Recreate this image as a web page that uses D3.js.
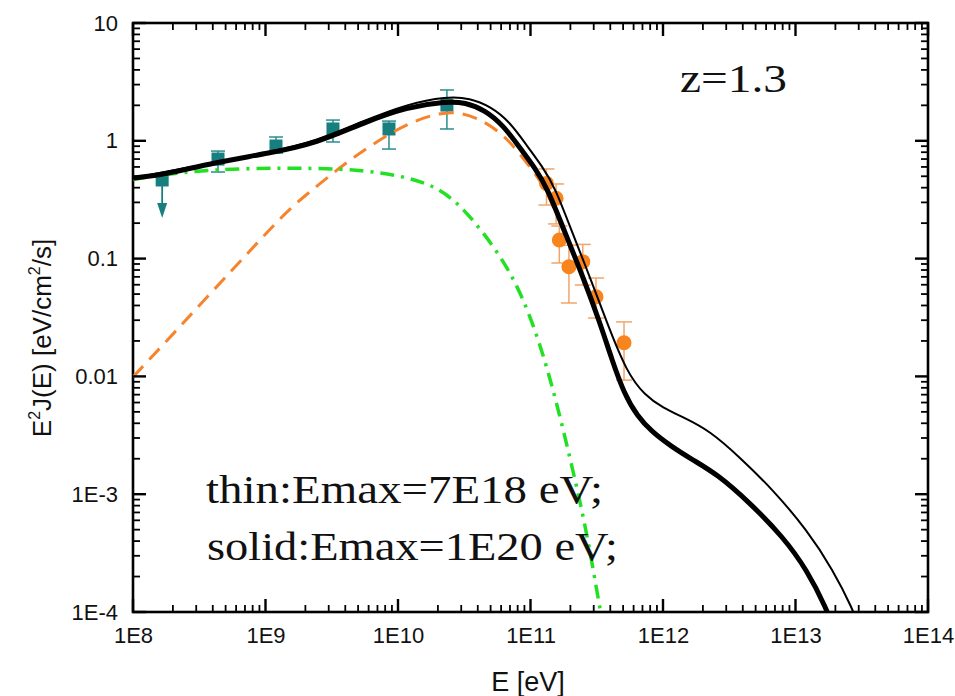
<!DOCTYPE html>
<html lang="en">
<head>
<meta charset="UTF-8">
<title>E2J(E) spectrum, z=1.3</title>
<script src="https://cdnjs.cloudflare.com/ajax/libs/d3/7.8.5/d3.min.js"></script>
<style>
  body { margin: 0; background: #fff; }
  #CHART text { font-family: "Liberation Sans", Arial, sans-serif; fill: #111; }
  #CHART .anno { font-family: "Liberation Serif", "Times New Roman", serif; fill: #111; }
</style>
</head>
<body>
<svg id="CHART" width="955" height="696"></svg>
<script>
// ---- axes ----
var xMajor = [1e8, 1e9, 1e10, 1e11, 1e12, 1e13, 1e14];
var xLabels = ["1E8", "1E9", "1E10", "1E11", "1E12", "1E13", "1E14"];
var yMajor = [1e-4, 1e-3, 1e-2, 1e-1, 1, 10];
var yLabels = ["1E-4", "1E-3", "0.01", "0.1", "1", "10"];
var minorSteps = [2, 3, 4, 5, 6, 7, 8, 9];

// ---- model curves (E in eV, E^2 J(E) in eV/cm^2/s) ----
var thickE = [1e8, 1.68e8, 4.0e8, 1.08e9, 2.45e9, 5.45e9, 1.17e10, 2.34e10, 3.21e10, 4.54e10, 6.2e10, 8.34e10,
              1.08e11, 1.33e11, 1.88e11, 2.49e11, 3.35e11, 4.12e11, 5.1e11, 6.4e11, 8.2e11, 1.15e12, 1.68e12, 2.56e12,
              4.54e12, 8.05e12, 1.22e13, 1.73e13, 1.88e13];
var thickF = [0.483, 0.513, 0.649, 0.787, 0.958, 1.42, 1.94, 2.16, 2.12, 1.82, 1.36, 0.869,
              0.588, 0.406, 0.152, 0.0698, 0.0284, 0.0138, 0.0071, 0.0046, 0.0034, 0.00255, 0.00195, 0.00148,
              8.41e-4, 4.34e-4, 2.28e-4, 1.04e-4, 7.8e-5];

var thinE = [1e8, 4.0e8, 1.08e9, 2.45e9, 5.45e9, 1.17e10, 2.34e10, 3.49e10, 4.94e10, 7.0e10, 9.42e10,
             1.22e11, 1.53e11, 2.13e11, 2.81e11, 3.78e11, 5.35e11, 7.3e11, 1.0e12, 1.42e12, 2.26e12, 3.81e12,
             6.76e12, 1.22e13, 1.92e13, 2.72e13, 2.96e13];
var thinF = [0.483, 0.649, 0.80, 1.0, 1.47, 2.05, 2.38, 2.30, 1.97, 1.45, 0.903,
             0.611, 0.406, 0.152, 0.0698, 0.0284, 0.0107, 0.0069, 0.0054, 0.0045, 0.00345, 0.00205,
             0.00109, 4.97e-4, 2.28e-4, 1.04e-4, 7.8e-5];

var hadE = [1e8, 1.6e8, 3.81e8, 9.08e8, 1.53e9, 2.45e9, 3.85e9, 6.15e9, 1.17e10, 2.47e10, 4.16e10,
            6.65e10, 1.05e11, 1.33e11, 1.88e11];
var hadF = [0.0099, 0.0174, 0.0501, 0.144, 0.269, 0.413, 0.624, 0.903, 1.42, 1.86, 1.55,
            1.08, 0.55, 0.38, 0.145];

var lepE = [1e8, 2.26e8, 7.24e8, 2.28e9, 5.45e9, 1.17e10, 1.97e10, 3.09e10, 5.59e10, 8.34e10,
            1.18e11, 1.58e11, 2.09e11, 2.67e11, 3.35e11, 3.53e11];
var lepF = [0.47, 0.543, 0.587, 0.587, 0.565, 0.493, 0.406, 0.274, 0.118, 0.054,
            0.0192, 0.00594, 0.0016, 4.69e-4, 1.04e-4, 7.8e-5];

// ---- data points ----
var fermiE  = [1.66e8, 4.38e8, 1.20e9, 3.23e9, 8.55e9, 2.34e10];
var fermiF  = [0.465, 0.70, 0.903, 1.26, 1.26, 2.01];
var fermiHi = [null, 0.818, 1.077, 1.50, 1.47, 2.70];
var fermiLo = [null, 0.543, 0.787, 0.977, 0.851, 1.26];
var fermiUL = [0.221, null, null, null, null, null];   // upper limit arrow tip

var tevE  = [1.32e11, 1.56e11, 1.65e11, 1.95e11, 2.48e11, 3.12e11, 5.08e11];
var tevF  = [0.435, 0.325, 0.144, 0.0853, 0.0942, 0.0475, 0.0193];
var tevHi = [0.577, 0.43, 0.189, 0.130, 0.132, 0.0684, 0.029];
var tevLo = [0.285, 0.197, 0.0918, 0.042, 0.0597, 0.0313, 0.0093];

var L = 133, R = 928, T = 23, B = 612;

var svg = d3.select("#CHART");
var x = d3.scaleLog().domain([1e8, 1e14]).range([L, R]);
var y = d3.scaleLog().domain([1e-4, 10]).range([B, T]);

// minor tick values: 2..9 times each decade below the top one
var xMinor = [], yMinor = [];
xMajor.slice(0, -1).forEach(function (m) { minorSteps.forEach(function (k) { xMinor.push(m * k); }); });
yMajor.slice(0, -1).forEach(function (m) { minorSteps.forEach(function (k) { yMinor.push(m * k); }); });

svg.append("defs").append("clipPath").attr("id", "plotClip")
  .append("rect").attr("x", L).attr("y", T).attr("width", R - L).attr("height", B - T);

// tick labels through d3 axes
function labels(gen, tx, ty) {
  var g = svg.append("g").attr("transform", "translate(" + tx + "," + ty + ")").call(gen);
  g.attr("font-size", 22).attr("font-family", null);
  g.select(".domain").remove();
}
labels(d3.axisBottom(x).tickValues(xMajor).tickFormat(function (d, i) { return xLabels[i]; })
  .tickSize(0).tickPadding(15), 0, B);
labels(d3.axisLeft(y).tickValues(yMajor).tickFormat(function (d, i) { return yLabels[i]; })
  .tickSize(0).tickPadding(15), L, 0);

svg.append("rect").attr("x", L).attr("y", T).attr("width", R - L).attr("height", B - T)
  .attr("fill", "none").attr("stroke", "#000").attr("stroke-width", 2.6);

// axis titles
var yt = svg.append("text")
  .attr("transform", "translate(51,338) rotate(-90)")
  .attr("text-anchor", "middle").attr("font-size", 26);
yt.append("tspan").text("E");
yt.append("tspan").attr("font-size", 16).attr("dy", -11).text("2");
yt.append("tspan").attr("dy", 11).text("J(E) [eV/cm");
yt.append("tspan").attr("font-size", 16).attr("dy", -11).text("2");
yt.append("tspan").attr("dy", 11).text("/s]");

svg.append("text").attr("x", 528).attr("y", 691)
  .attr("text-anchor", "middle").attr("font-size", 27).text("E [eV]");

var plot = svg.append("g");

// Fermi points (teal squares)
var teal = "#177f80";
fermiE.forEach(function (e, i) {
  var cx = x(e), cy = y(fermiF[i]);
  if (fermiHi[i] != null) {
    plot.append("line").attr("x1", cx).attr("x2", cx).attr("y1", y(fermiHi[i])).attr("y2", y(fermiLo[i]))
      .attr("stroke", "#2a8d8d").attr("stroke-width", 1.5);
    [fermiHi[i], fermiLo[i]].forEach(function (v) {
      plot.append("line").attr("x1", cx - 7).attr("x2", cx + 7).attr("y1", y(v)).attr("y2", y(v))
        .attr("stroke", "#2a8d8d").attr("stroke-width", 1.5);
    });
  }
  if (fermiUL[i] != null) {
    var tip = y(fermiUL[i]);
    plot.append("line").attr("x1", cx).attr("x2", cx).attr("y1", cy).attr("y2", tip - 10)
      .attr("stroke", teal).attr("stroke-width", 1.8);
    plot.append("path")
      .attr("d", "M" + (cx - 5) + "," + (tip - 15) + "L" + (cx + 5) + "," + (tip - 15) + "L" + cx + "," + tip + "Z")
      .attr("fill", teal);
  }
  plot.append("rect").attr("x", cx - 6.5).attr("y", cy - 6.5).attr("width", 13).attr("height", 13)
    .attr("fill", teal);
});

// TeV points (orange circles)
var orange = "#f8841d";
tevE.forEach(function (e, i) {
  var cx = x(e);
  plot.append("line").attr("x1", cx).attr("x2", cx).attr("y1", y(tevHi[i])).attr("y2", y(tevLo[i]))
    .attr("stroke", "#f2a56a").attr("stroke-width", 1.5);
  [tevHi[i], tevLo[i]].forEach(function (v) {
    plot.append("line").attr("x1", cx - 8).attr("x2", cx + 8).attr("y1", y(v)).attr("y2", y(v))
      .attr("stroke", "#f2a56a").attr("stroke-width", 1.5);
  });
});
plot.selectAll("circle.tev").data(tevE).join("circle").attr("class", "tev")
  .attr("cx", function (d) { return x(d); })
  .attr("cy", function (d, i) { return y(tevF[i]); })
  .attr("r", 7.5).attr("fill", orange);

// curves
var lines = svg.append("g").attr("clip-path", "url(#plotClip)");
function curve(es, fs) {
  var pts = es.map(function (e, i) { return [x(e), y(fs[i])]; });
  return d3.line().curve(d3.curveBasis)(pts);
}
lines.append("path").attr("d", curve(hadE, hadF)).attr("fill", "none")
  .attr("stroke", "#f6842c").attr("stroke-width", 3).attr("stroke-dasharray", "15,9");
lines.append("path").attr("d", curve(lepE, lepF)).attr("fill", "none")
  .attr("stroke", "#22e022").attr("stroke-width", 3.5).attr("stroke-dasharray", "14,7,3,7");
lines.append("path").attr("d", curve(thinE, thinF)).attr("fill", "none")
  .attr("stroke", "#000").attr("stroke-width", 2);
lines.append("path").attr("d", curve(thickE, thickF)).attr("fill", "none")
  .attr("stroke", "#000").attr("stroke-width", 5);

// annotations
svg.append("text").attr("class", "anno").attr("x", 680).attr("y", 92)
  .attr("font-size", 40).attr("textLength", 107).attr("lengthAdjust", "spacingAndGlyphs").text("z=1.3");
svg.append("text").attr("class", "anno").attr("x", 206).attr("y", 503)
  .attr("font-size", 40).attr("textLength", 397).attr("lengthAdjust", "spacingAndGlyphs").text("thin:Emax=7E18 eV;");
svg.append("text").attr("class", "anno").attr("x", 207).attr("y", 560)
  .attr("font-size", 40).attr("textLength", 411).attr("lengthAdjust", "spacingAndGlyphs").text("solid:Emax=1E20 eV;");

// tick marks, drawn last, all pointing into the plot
var tk = svg.append("g").attr("class", "tickmarks");
function xTickMarks(vals, len, w) {
  [[B, -1], [T, 1]].forEach(function (side) {
    tk.append("g").selectAll("line").data(vals).join("line")
      .attr("x1", function (d) { return x(d); }).attr("x2", function (d) { return x(d); })
      .attr("y1", side[0]).attr("y2", side[0] + side[1] * len)
      .attr("stroke", "#000").attr("stroke-width", w);
  });
}
function yTickMarks(vals, len, w) {
  [[L, 1], [R, -1]].forEach(function (side) {
    tk.append("g").selectAll("line").data(vals).join("line")
      .attr("y1", function (d) { return y(d); }).attr("y2", function (d) { return y(d); })
      .attr("x1", side[0]).attr("x2", side[0] + side[1] * len)
      .attr("stroke", "#000").attr("stroke-width", w);
  });
}
xTickMarks(xMajor, 13, 2.4);
xTickMarks(xMinor, 7, 1.8);
yTickMarks(yMajor, 13, 2.4);
yTickMarks(yMinor, 7, 1.8);
</script>
</body>
</html>
